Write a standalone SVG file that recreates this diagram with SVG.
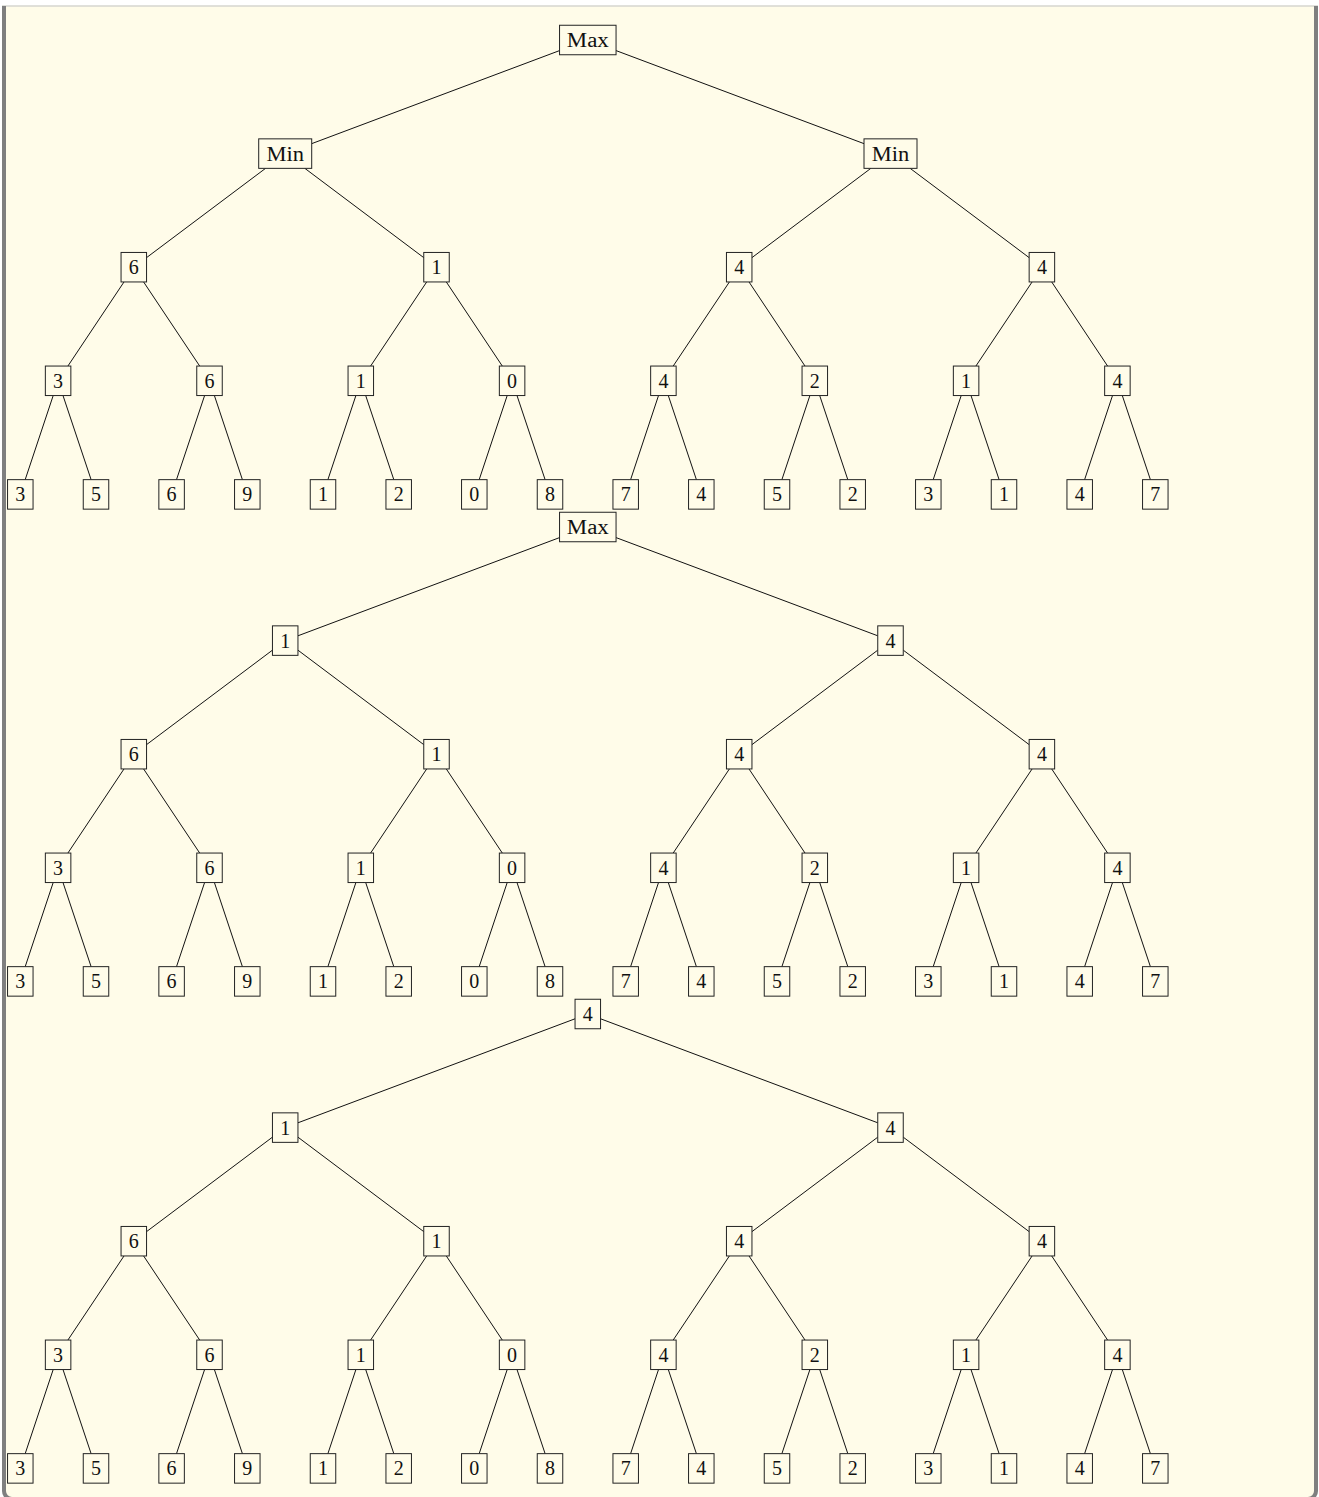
<svg xmlns="http://www.w3.org/2000/svg" width="1319" height="1497" viewBox="0 0 1319 1497">
<style>
.bg{fill:#fffce9}
.n rect{fill:#fffce9;stroke:#222;stroke-width:1}
.n text{font-family:"Liberation Serif","DejaVu Serif",serif;font-size:20px;fill:#111;text-anchor:middle}
#edges line{stroke:#111;stroke-width:1}
</style>
<path class="bg" d="M4,6 H1316 V1491 A8,8 0 0 1 1308,1499 H12 A8,8 0 0 1 4,1491 Z"/>
<line x1="2" y1="6" x2="1318" y2="6" stroke="#d6d6cf" stroke-width="1.5"/>
<path d="M4,6 V1491 A8,8 0 0 0 12,1499 H1308 A8,8 0 0 0 1316,1491 V6" fill="none" stroke="#7f7f7f" stroke-width="4"/>
<g id="edges">
<!-- tree 1 -->
<line x1="559.55" y1="50.6" x2="311.7" y2="143.65"/>
<line x1="616.05" y1="50.6" x2="864" y2="143.65"/>
<line x1="265.55" y1="168.35" x2="146.55" y2="257.63"/>
<line x1="304.85" y1="168.35" x2="423.75" y2="257.63"/>
<line x1="870.85" y1="168.35" x2="751.95" y2="257.63"/>
<line x1="910.15" y1="168.35" x2="1029.15" y2="257.63"/>
<line x1="124" y1="281.95" x2="67.9" y2="366.05"/>
<line x1="143.6" y1="281.95" x2="199.7" y2="366.05"/>
<line x1="426.7" y1="281.95" x2="370.6" y2="366.05"/>
<line x1="446.3" y1="281.95" x2="502.3" y2="366.05"/>
<line x1="729.4" y1="281.95" x2="673.2" y2="366.05"/>
<line x1="749" y1="281.95" x2="805" y2="366.05"/>
<line x1="1032.1" y1="281.95" x2="975.9" y2="366.05"/>
<line x1="1051.7" y1="281.95" x2="1107.6" y2="366.05"/>
<line x1="53.2" y1="395.55" x2="25.2" y2="479.65"/>
<line x1="63" y1="395.55" x2="91.1" y2="479.65"/>
<line x1="204.6" y1="395.55" x2="176.5" y2="479.65"/>
<line x1="214.4" y1="395.55" x2="242.4" y2="479.65"/>
<line x1="355.9" y1="395.55" x2="327.9" y2="479.65"/>
<line x1="365.7" y1="395.55" x2="393.8" y2="479.65"/>
<line x1="507.2" y1="395.55" x2="479.2" y2="479.65"/>
<line x1="517" y1="395.55" x2="545.1" y2="479.65"/>
<line x1="658.5" y1="395.55" x2="630.6" y2="479.65"/>
<line x1="668.3" y1="395.55" x2="696.4" y2="479.65"/>
<line x1="809.9" y1="395.55" x2="781.9" y2="479.65"/>
<line x1="819.7" y1="395.55" x2="847.8" y2="479.65"/>
<line x1="961.2" y1="395.55" x2="933.2" y2="479.65"/>
<line x1="971" y1="395.55" x2="999.1" y2="479.65"/>
<line x1="1112.5" y1="395.55" x2="1084.6" y2="479.65"/>
<line x1="1122.3" y1="395.55" x2="1150.4" y2="479.65"/>
<!-- tree 2 -->
<line x1="559.55" y1="537.6" x2="297.95" y2="635.81"/>
<line x1="616.05" y1="537.6" x2="877.75" y2="635.81"/>
<line x1="272.45" y1="650.17" x2="146.55" y2="744.63"/>
<line x1="297.95" y1="650.17" x2="423.75" y2="744.63"/>
<line x1="877.75" y1="650.17" x2="751.95" y2="744.63"/>
<line x1="903.25" y1="650.17" x2="1029.15" y2="744.63"/>
<line x1="124" y1="768.95" x2="67.9" y2="853.05"/>
<line x1="143.6" y1="768.95" x2="199.7" y2="853.05"/>
<line x1="426.7" y1="768.95" x2="370.6" y2="853.05"/>
<line x1="446.3" y1="768.95" x2="502.3" y2="853.05"/>
<line x1="729.4" y1="768.95" x2="673.2" y2="853.05"/>
<line x1="749" y1="768.95" x2="805" y2="853.05"/>
<line x1="1032.1" y1="768.95" x2="975.9" y2="853.05"/>
<line x1="1051.7" y1="768.95" x2="1107.6" y2="853.05"/>
<line x1="53.2" y1="882.55" x2="25.2" y2="966.65"/>
<line x1="63" y1="882.55" x2="91.1" y2="966.65"/>
<line x1="204.6" y1="882.55" x2="176.5" y2="966.65"/>
<line x1="214.4" y1="882.55" x2="242.4" y2="966.65"/>
<line x1="355.9" y1="882.55" x2="327.9" y2="966.65"/>
<line x1="365.7" y1="882.55" x2="393.8" y2="966.65"/>
<line x1="507.2" y1="882.55" x2="479.2" y2="966.65"/>
<line x1="517" y1="882.55" x2="545.1" y2="966.65"/>
<line x1="658.5" y1="882.55" x2="630.6" y2="966.65"/>
<line x1="668.3" y1="882.55" x2="696.4" y2="966.65"/>
<line x1="809.9" y1="882.55" x2="781.9" y2="966.65"/>
<line x1="819.7" y1="882.55" x2="847.8" y2="966.65"/>
<line x1="961.2" y1="882.55" x2="933.2" y2="966.65"/>
<line x1="971" y1="882.55" x2="999.1" y2="966.65"/>
<line x1="1112.5" y1="882.55" x2="1084.6" y2="966.65"/>
<line x1="1122.3" y1="882.55" x2="1150.4" y2="966.65"/>
<!-- tree 3 -->
<line x1="575.05" y1="1018.79" x2="297.95" y2="1122.81"/>
<line x1="600.55" y1="1018.79" x2="877.75" y2="1122.81"/>
<line x1="272.45" y1="1137.17" x2="146.55" y2="1231.63"/>
<line x1="297.95" y1="1137.17" x2="423.75" y2="1231.63"/>
<line x1="877.75" y1="1137.17" x2="751.95" y2="1231.63"/>
<line x1="903.25" y1="1137.17" x2="1029.15" y2="1231.63"/>
<line x1="124" y1="1255.95" x2="67.9" y2="1340.05"/>
<line x1="143.6" y1="1255.95" x2="199.7" y2="1340.05"/>
<line x1="426.7" y1="1255.95" x2="370.6" y2="1340.05"/>
<line x1="446.3" y1="1255.95" x2="502.3" y2="1340.05"/>
<line x1="729.4" y1="1255.95" x2="673.2" y2="1340.05"/>
<line x1="749" y1="1255.95" x2="805" y2="1340.05"/>
<line x1="1032.1" y1="1255.95" x2="975.9" y2="1340.05"/>
<line x1="1051.7" y1="1255.95" x2="1107.6" y2="1340.05"/>
<line x1="53.2" y1="1369.55" x2="25.2" y2="1453.65"/>
<line x1="63" y1="1369.55" x2="91.1" y2="1453.65"/>
<line x1="204.6" y1="1369.55" x2="176.5" y2="1453.65"/>
<line x1="214.4" y1="1369.55" x2="242.4" y2="1453.65"/>
<line x1="355.9" y1="1369.55" x2="327.9" y2="1453.65"/>
<line x1="365.7" y1="1369.55" x2="393.8" y2="1453.65"/>
<line x1="507.2" y1="1369.55" x2="479.2" y2="1453.65"/>
<line x1="517" y1="1369.55" x2="545.1" y2="1453.65"/>
<line x1="658.5" y1="1369.55" x2="630.6" y2="1453.65"/>
<line x1="668.3" y1="1369.55" x2="696.4" y2="1453.65"/>
<line x1="809.9" y1="1369.55" x2="781.9" y2="1453.65"/>
<line x1="819.7" y1="1369.55" x2="847.8" y2="1453.65"/>
<line x1="961.2" y1="1369.55" x2="933.2" y2="1453.65"/>
<line x1="971" y1="1369.55" x2="999.1" y2="1453.65"/>
<line x1="1112.5" y1="1369.55" x2="1084.6" y2="1453.65"/>
<line x1="1122.3" y1="1369.55" x2="1150.4" y2="1453.65"/>
</g>
<!-- Tree 1 nodes -->
<g id="t1-root" class="n"><rect x="559.55" y="25.25" width="56.5" height="29.5"/><text x="587.8" y="47" textLength="42" lengthAdjust="spacingAndGlyphs">Max</text></g>
<g id="t1-l1-0" class="n"><rect x="258.7" y="138.85" width="53" height="29.5"/><text x="285.2" y="160.6" textLength="37.5" lengthAdjust="spacingAndGlyphs">Min</text></g>
<g id="t1-l1-1" class="n"><rect x="864" y="138.85" width="53" height="29.5"/><text x="890.5" y="160.6" textLength="37.5" lengthAdjust="spacingAndGlyphs">Min</text></g>
<g id="t1-l2-0" class="n"><rect x="121.05" y="252.45" width="25.5" height="29.5"/><text x="133.8" y="274.2">6</text></g>
<g id="t1-l2-1" class="n"><rect x="423.75" y="252.45" width="25.5" height="29.5"/><text x="436.5" y="274.2">1</text></g>
<g id="t1-l2-2" class="n"><rect x="726.45" y="252.45" width="25.5" height="29.5"/><text x="739.2" y="274.2">4</text></g>
<g id="t1-l2-3" class="n"><rect x="1029.15" y="252.45" width="25.5" height="29.5"/><text x="1041.9" y="274.2">4</text></g>
<g id="t1-l3-0" class="n"><rect x="45.35" y="366.05" width="25.5" height="29.5"/><text x="58.1" y="387.8">3</text></g>
<g id="t1-l3-1" class="n"><rect x="196.75" y="366.05" width="25.5" height="29.5"/><text x="209.5" y="387.8">6</text></g>
<g id="t1-l3-2" class="n"><rect x="348.05" y="366.05" width="25.5" height="29.5"/><text x="360.8" y="387.8">1</text></g>
<g id="t1-l3-3" class="n"><rect x="499.35" y="366.05" width="25.5" height="29.5"/><text x="512.1" y="387.8">0</text></g>
<g id="t1-l3-4" class="n"><rect x="650.65" y="366.05" width="25.5" height="29.5"/><text x="663.4" y="387.8">4</text></g>
<g id="t1-l3-5" class="n"><rect x="802.05" y="366.05" width="25.5" height="29.5"/><text x="814.8" y="387.8">2</text></g>
<g id="t1-l3-6" class="n"><rect x="953.35" y="366.05" width="25.5" height="29.5"/><text x="966.1" y="387.8">1</text></g>
<g id="t1-l3-7" class="n"><rect x="1104.65" y="366.05" width="25.5" height="29.5"/><text x="1117.4" y="387.8">4</text></g>
<g id="t1-l4-0" class="n"><rect x="7.55" y="479.65" width="25.5" height="29.5"/><text x="20.3" y="501.4">3</text></g>
<g id="t1-l4-1" class="n"><rect x="83.25" y="479.65" width="25.5" height="29.5"/><text x="96" y="501.4">5</text></g>
<g id="t1-l4-2" class="n"><rect x="158.85" y="479.65" width="25.5" height="29.5"/><text x="171.6" y="501.4">6</text></g>
<g id="t1-l4-3" class="n"><rect x="234.55" y="479.65" width="25.5" height="29.5"/><text x="247.3" y="501.4">9</text></g>
<g id="t1-l4-4" class="n"><rect x="310.25" y="479.65" width="25.5" height="29.5"/><text x="323" y="501.4">1</text></g>
<g id="t1-l4-5" class="n"><rect x="385.95" y="479.65" width="25.5" height="29.5"/><text x="398.7" y="501.4">2</text></g>
<g id="t1-l4-6" class="n"><rect x="461.55" y="479.65" width="25.5" height="29.5"/><text x="474.3" y="501.4">0</text></g>
<g id="t1-l4-7" class="n"><rect x="537.25" y="479.65" width="25.5" height="29.5"/><text x="550" y="501.4">8</text></g>
<g id="t1-l4-8" class="n"><rect x="612.95" y="479.65" width="25.5" height="29.5"/><text x="625.7" y="501.4">7</text></g>
<g id="t1-l4-9" class="n"><rect x="688.55" y="479.65" width="25.5" height="29.5"/><text x="701.3" y="501.4">4</text></g>
<g id="t1-l4-10" class="n"><rect x="764.25" y="479.65" width="25.5" height="29.5"/><text x="777" y="501.4">5</text></g>
<g id="t1-l4-11" class="n"><rect x="839.95" y="479.65" width="25.5" height="29.5"/><text x="852.7" y="501.4">2</text></g>
<g id="t1-l4-12" class="n"><rect x="915.55" y="479.65" width="25.5" height="29.5"/><text x="928.3" y="501.4">3</text></g>
<g id="t1-l4-13" class="n"><rect x="991.25" y="479.65" width="25.5" height="29.5"/><text x="1004" y="501.4">1</text></g>
<g id="t1-l4-14" class="n"><rect x="1066.95" y="479.65" width="25.5" height="29.5"/><text x="1079.7" y="501.4">4</text></g>
<g id="t1-l4-15" class="n"><rect x="1142.55" y="479.65" width="25.5" height="29.5"/><text x="1155.3" y="501.4">7</text></g>
<!-- Tree 2 nodes -->
<g id="t2-root" class="n"><rect x="559.55" y="512.25" width="56.5" height="29.5"/><text x="587.8" y="534" textLength="42" lengthAdjust="spacingAndGlyphs">Max</text></g>
<g id="t2-l1-0" class="n"><rect x="272.45" y="625.85" width="25.5" height="29.5"/><text x="285.2" y="647.6">1</text></g>
<g id="t2-l1-1" class="n"><rect x="877.75" y="625.85" width="25.5" height="29.5"/><text x="890.5" y="647.6">4</text></g>
<g id="t2-l2-0" class="n"><rect x="121.05" y="739.45" width="25.5" height="29.5"/><text x="133.8" y="761.2">6</text></g>
<g id="t2-l2-1" class="n"><rect x="423.75" y="739.45" width="25.5" height="29.5"/><text x="436.5" y="761.2">1</text></g>
<g id="t2-l2-2" class="n"><rect x="726.45" y="739.45" width="25.5" height="29.5"/><text x="739.2" y="761.2">4</text></g>
<g id="t2-l2-3" class="n"><rect x="1029.15" y="739.45" width="25.5" height="29.5"/><text x="1041.9" y="761.2">4</text></g>
<g id="t2-l3-0" class="n"><rect x="45.35" y="853.05" width="25.5" height="29.5"/><text x="58.1" y="874.8">3</text></g>
<g id="t2-l3-1" class="n"><rect x="196.75" y="853.05" width="25.5" height="29.5"/><text x="209.5" y="874.8">6</text></g>
<g id="t2-l3-2" class="n"><rect x="348.05" y="853.05" width="25.5" height="29.5"/><text x="360.8" y="874.8">1</text></g>
<g id="t2-l3-3" class="n"><rect x="499.35" y="853.05" width="25.5" height="29.5"/><text x="512.1" y="874.8">0</text></g>
<g id="t2-l3-4" class="n"><rect x="650.65" y="853.05" width="25.5" height="29.5"/><text x="663.4" y="874.8">4</text></g>
<g id="t2-l3-5" class="n"><rect x="802.05" y="853.05" width="25.5" height="29.5"/><text x="814.8" y="874.8">2</text></g>
<g id="t2-l3-6" class="n"><rect x="953.35" y="853.05" width="25.5" height="29.5"/><text x="966.1" y="874.8">1</text></g>
<g id="t2-l3-7" class="n"><rect x="1104.65" y="853.05" width="25.5" height="29.5"/><text x="1117.4" y="874.8">4</text></g>
<g id="t2-l4-0" class="n"><rect x="7.55" y="966.65" width="25.5" height="29.5"/><text x="20.3" y="988.4">3</text></g>
<g id="t2-l4-1" class="n"><rect x="83.25" y="966.65" width="25.5" height="29.5"/><text x="96" y="988.4">5</text></g>
<g id="t2-l4-2" class="n"><rect x="158.85" y="966.65" width="25.5" height="29.5"/><text x="171.6" y="988.4">6</text></g>
<g id="t2-l4-3" class="n"><rect x="234.55" y="966.65" width="25.5" height="29.5"/><text x="247.3" y="988.4">9</text></g>
<g id="t2-l4-4" class="n"><rect x="310.25" y="966.65" width="25.5" height="29.5"/><text x="323" y="988.4">1</text></g>
<g id="t2-l4-5" class="n"><rect x="385.95" y="966.65" width="25.5" height="29.5"/><text x="398.7" y="988.4">2</text></g>
<g id="t2-l4-6" class="n"><rect x="461.55" y="966.65" width="25.5" height="29.5"/><text x="474.3" y="988.4">0</text></g>
<g id="t2-l4-7" class="n"><rect x="537.25" y="966.65" width="25.5" height="29.5"/><text x="550" y="988.4">8</text></g>
<g id="t2-l4-8" class="n"><rect x="612.95" y="966.65" width="25.5" height="29.5"/><text x="625.7" y="988.4">7</text></g>
<g id="t2-l4-9" class="n"><rect x="688.55" y="966.65" width="25.5" height="29.5"/><text x="701.3" y="988.4">4</text></g>
<g id="t2-l4-10" class="n"><rect x="764.25" y="966.65" width="25.5" height="29.5"/><text x="777" y="988.4">5</text></g>
<g id="t2-l4-11" class="n"><rect x="839.95" y="966.65" width="25.5" height="29.5"/><text x="852.7" y="988.4">2</text></g>
<g id="t2-l4-12" class="n"><rect x="915.55" y="966.65" width="25.5" height="29.5"/><text x="928.3" y="988.4">3</text></g>
<g id="t2-l4-13" class="n"><rect x="991.25" y="966.65" width="25.5" height="29.5"/><text x="1004" y="988.4">1</text></g>
<g id="t2-l4-14" class="n"><rect x="1066.95" y="966.65" width="25.5" height="29.5"/><text x="1079.7" y="988.4">4</text></g>
<g id="t2-l4-15" class="n"><rect x="1142.55" y="966.65" width="25.5" height="29.5"/><text x="1155.3" y="988.4">7</text></g>
<!-- Tree 3 nodes -->
<g id="t3-root" class="n"><rect x="575.05" y="999.25" width="25.5" height="29.5"/><text x="587.8" y="1021">4</text></g>
<g id="t3-l1-0" class="n"><rect x="272.45" y="1112.85" width="25.5" height="29.5"/><text x="285.2" y="1134.6">1</text></g>
<g id="t3-l1-1" class="n"><rect x="877.75" y="1112.85" width="25.5" height="29.5"/><text x="890.5" y="1134.6">4</text></g>
<g id="t3-l2-0" class="n"><rect x="121.05" y="1226.45" width="25.5" height="29.5"/><text x="133.8" y="1248.2">6</text></g>
<g id="t3-l2-1" class="n"><rect x="423.75" y="1226.45" width="25.5" height="29.5"/><text x="436.5" y="1248.2">1</text></g>
<g id="t3-l2-2" class="n"><rect x="726.45" y="1226.45" width="25.5" height="29.5"/><text x="739.2" y="1248.2">4</text></g>
<g id="t3-l2-3" class="n"><rect x="1029.15" y="1226.45" width="25.5" height="29.5"/><text x="1041.9" y="1248.2">4</text></g>
<g id="t3-l3-0" class="n"><rect x="45.35" y="1340.05" width="25.5" height="29.5"/><text x="58.1" y="1361.8">3</text></g>
<g id="t3-l3-1" class="n"><rect x="196.75" y="1340.05" width="25.5" height="29.5"/><text x="209.5" y="1361.8">6</text></g>
<g id="t3-l3-2" class="n"><rect x="348.05" y="1340.05" width="25.5" height="29.5"/><text x="360.8" y="1361.8">1</text></g>
<g id="t3-l3-3" class="n"><rect x="499.35" y="1340.05" width="25.5" height="29.5"/><text x="512.1" y="1361.8">0</text></g>
<g id="t3-l3-4" class="n"><rect x="650.65" y="1340.05" width="25.5" height="29.5"/><text x="663.4" y="1361.8">4</text></g>
<g id="t3-l3-5" class="n"><rect x="802.05" y="1340.05" width="25.5" height="29.5"/><text x="814.8" y="1361.8">2</text></g>
<g id="t3-l3-6" class="n"><rect x="953.35" y="1340.05" width="25.5" height="29.5"/><text x="966.1" y="1361.8">1</text></g>
<g id="t3-l3-7" class="n"><rect x="1104.65" y="1340.05" width="25.5" height="29.5"/><text x="1117.4" y="1361.8">4</text></g>
<g id="t3-l4-0" class="n"><rect x="7.55" y="1453.65" width="25.5" height="29.5"/><text x="20.3" y="1475.4">3</text></g>
<g id="t3-l4-1" class="n"><rect x="83.25" y="1453.65" width="25.5" height="29.5"/><text x="96" y="1475.4">5</text></g>
<g id="t3-l4-2" class="n"><rect x="158.85" y="1453.65" width="25.5" height="29.5"/><text x="171.6" y="1475.4">6</text></g>
<g id="t3-l4-3" class="n"><rect x="234.55" y="1453.65" width="25.5" height="29.5"/><text x="247.3" y="1475.4">9</text></g>
<g id="t3-l4-4" class="n"><rect x="310.25" y="1453.65" width="25.5" height="29.5"/><text x="323" y="1475.4">1</text></g>
<g id="t3-l4-5" class="n"><rect x="385.95" y="1453.65" width="25.5" height="29.5"/><text x="398.7" y="1475.4">2</text></g>
<g id="t3-l4-6" class="n"><rect x="461.55" y="1453.65" width="25.5" height="29.5"/><text x="474.3" y="1475.4">0</text></g>
<g id="t3-l4-7" class="n"><rect x="537.25" y="1453.65" width="25.5" height="29.5"/><text x="550" y="1475.4">8</text></g>
<g id="t3-l4-8" class="n"><rect x="612.95" y="1453.65" width="25.5" height="29.5"/><text x="625.7" y="1475.4">7</text></g>
<g id="t3-l4-9" class="n"><rect x="688.55" y="1453.65" width="25.5" height="29.5"/><text x="701.3" y="1475.4">4</text></g>
<g id="t3-l4-10" class="n"><rect x="764.25" y="1453.65" width="25.5" height="29.5"/><text x="777" y="1475.4">5</text></g>
<g id="t3-l4-11" class="n"><rect x="839.95" y="1453.65" width="25.5" height="29.5"/><text x="852.7" y="1475.4">2</text></g>
<g id="t3-l4-12" class="n"><rect x="915.55" y="1453.65" width="25.5" height="29.5"/><text x="928.3" y="1475.4">3</text></g>
<g id="t3-l4-13" class="n"><rect x="991.25" y="1453.65" width="25.5" height="29.5"/><text x="1004" y="1475.4">1</text></g>
<g id="t3-l4-14" class="n"><rect x="1066.95" y="1453.65" width="25.5" height="29.5"/><text x="1079.7" y="1475.4">4</text></g>
<g id="t3-l4-15" class="n"><rect x="1142.55" y="1453.65" width="25.5" height="29.5"/><text x="1155.3" y="1475.4">7</text></g>
</svg>
